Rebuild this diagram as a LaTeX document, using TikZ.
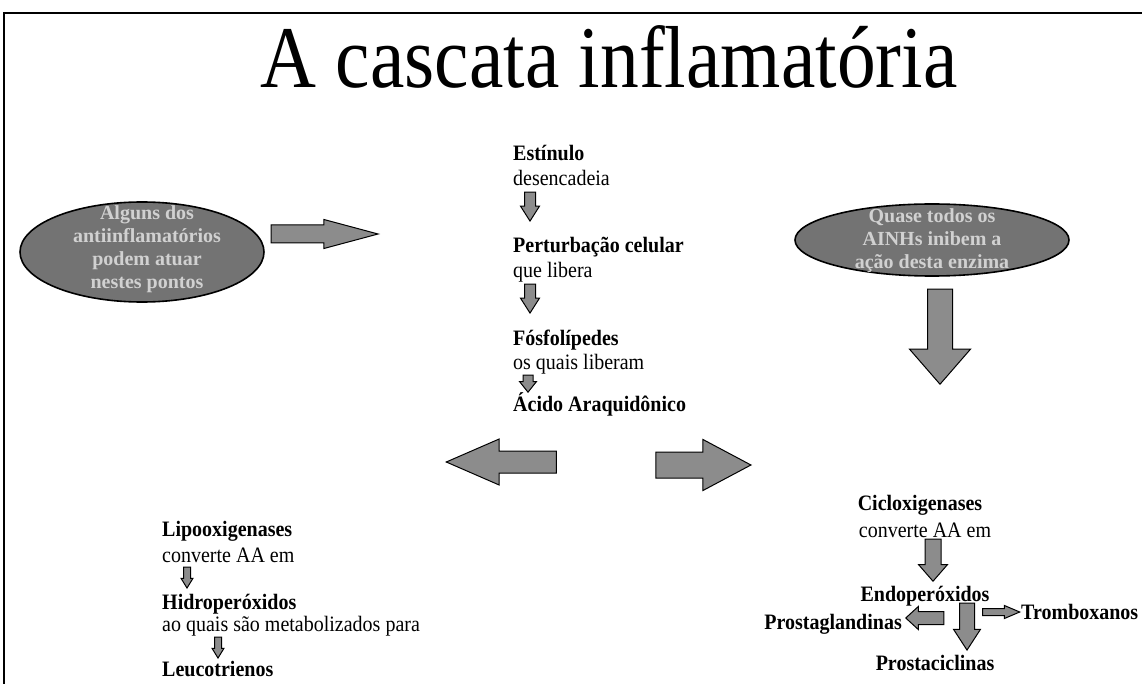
\documentclass[tikz,border=0pt]{standalone}
\usepackage{fontspec}
\setmainfont{Liberation Serif}
\usetikzlibrary{shapes.geometric,shapes.arrows}
\tikzset{
	txt/.style={font=\fontsize{20}{22}\selectfont, inner sep=0pt, anchor=west, yscale=1.1},
	hd/.style={txt, font=\fontsize{20}{22}\selectfont\bfseries},
	blob/.style={ellipse, draw=black, line width=1.6pt, fill=black!55, inner sep=0pt},
	blobtxt/.style={font=\fontsize{20}{23}\selectfont\bfseries, text=black!18, align=center, inner sep=0pt},
	blk/.style n args={4}{
		single arrow, draw=black, line width=1pt, fill=black!45,
		inner sep=0pt, inner ysep=#2, minimum height=#1,
		single arrow head extend=#3, single arrow tip angle=#4, anchor=tip
	},
}
\begin{document}
\begin{tikzpicture}[x=1pt, y=-1pt]
\useasboundingbox (0,0) rectangle (1142,684);
% frame
\draw[line width=1.5pt] (4,684) -- (4,13) -- (1142,13);
\node[font=\fontsize{88}{90}\selectfont, inner sep=0pt, xscale=0.88] (title) at (609,57) {A cascata inflamatória};

% left and right notes
\node[blob, minimum width=244, minimum height=100] (algum) at (142,252) {};
\node[blobtxt] (algumtxt) at (147,249) {Alguns dos\\antiinflamatórios\\podem atuar\\nestes pontos};
\node[blob, minimum width=274, minimum height=72] (quase) at (932,240) {};
\node[blobtxt] (quasetxt) at (932,241) {Quase todos os\\AINHs inibem a\\ação desta enzima};
\node[blk={107}{8.5}{5.5}{30}] (aalg) at (380,234) {};
\node[blk={95}{12}{18}{82}, rotate=-90] (aqua) at (940,385) {};

% central column
\node[hd] (estim) at (513,153) {Estínulo};
\node[txt] (desenc) at (513,178) {desencadeia};
\node[blk={29}{5}{4}{65}, rotate=-90] (a1) at (530,222) {};
\node[hd] (pert) at (513,247) {Perturbação celular};
\node[txt] (libera) at (513,272) {que libera};
\node[blk={29}{5}{4}{65}, rotate=-90] (a2) at (530,314) {};
\node[hd] (fosf) at (513,340) {Fósfolípedes};
\node[txt] (liberam) at (513,364) {os quais liberam};
\node[blk={17}{4.5}{3.5}{77}, rotate=-90] (a3) at (528,393) {};
\node[hd] (acido) at (513,404) {Ácido Araquidônico};

% branches
\node[blk={110}{10.5}{12}{47}, rotate=180] (aleft) at (445,462) {};
\node[blk={95}{12.5}{12.5}{56}] (aright) at (752,465) {};

% lipooxigenase path
\node[hd] (lipo) at (162,531) {Lipooxigenases};
\node[txt] (conv1) at (162,555) {converte AA em};
\node[blk={21}{3}{2.5}{63}, rotate=-90] (a4) at (187,589) {};
\node[hd] (hidro) at (162,604) {Hidroperóxidos};
\node[txt] (metab) at (162,626) {ao quais são metabolizados para};
\node[blk={21}{3}{2.5}{63}, rotate=-90] (a5) at (218,659) {};
\node[hd] (leuco) at (162,669) {Leucotrienos};

% cicloxigenase path
\node[hd, anchor=center] (ciclo) at (920,505) {Cicloxigenases};
\node[txt, anchor=center] (conv2) at (925,530) {converte AA em};
\node[blk={42}{7.5}{6.5}{82}, rotate=-90] (a6) at (933,582) {};
\node[hd, anchor=center] (endo) at (925,596) {Endoperóxidos};
\node[blk={47}{7}{6}{66}, rotate=-90] (a7) at (967,651) {};
\node[blk={38}{6}{5}{85}, rotate=180] (a8) at (905,618) {};
\node[hd, anchor=east] (prosta) at (902,624) {Prostaglandinas};
\node[blk={37}{3}{3}{46}] (a9) at (1021,612) {};
\node[hd] (trombo) at (1021,612) {Tromboxanos};
\node[hd, anchor=center] (pcicl) at (935,663) {Prostaciclinas};
\end{tikzpicture}
\end{document}
